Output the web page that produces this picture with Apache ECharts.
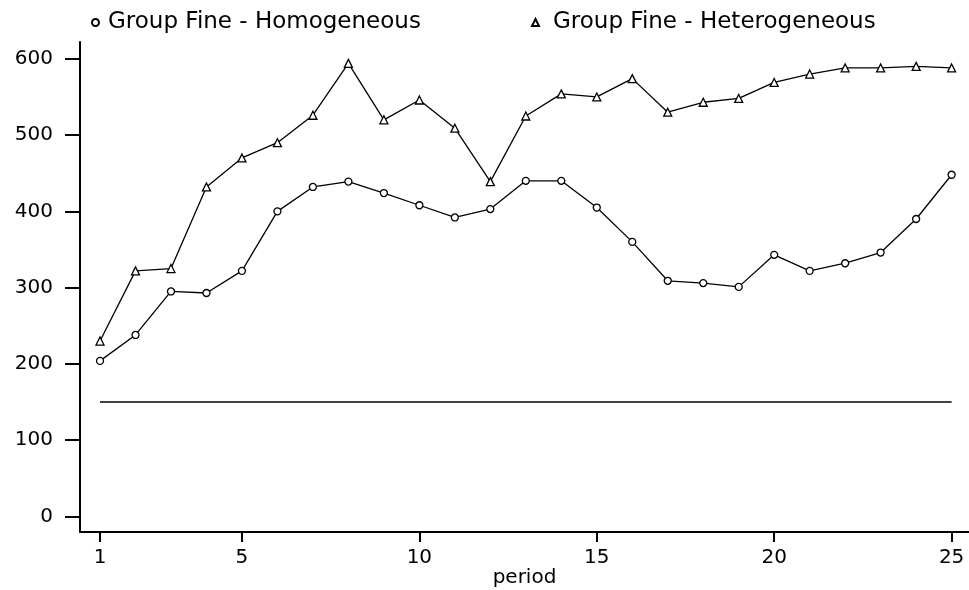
<!DOCTYPE html>
<html>
<head>
<meta charset="utf-8">
<script src="https://cdn.jsdelivr.net/npm/echarts@6/dist/echarts.min.js"></script>
<style>
html,body{margin:0;padding:0;background:#fff;}
#chart{width:969px;height:590px;}
</style>
</head>
<body>
<div id="chart"></div>
<script>
var periods = [1,2,3,4,5,6,7,8,9,10,11,12,13,14,15,16,17,18,19,20,21,22,23,24,25];
var homogeneous = [204,238,295,293,322,400,432,439,424,408,392,403,440,440,405,360,309,306,301,343,322,332,346,390,448];
var heterogeneous = [230,322,325,432,470,490,526,594,520,546,509,439,525,554,550,574,530,543,548,569,580,588,588,590,588];
var baselineValue = 150;
var xTicks = [1,5,10,15,20,25];
var yTicks = [0,100,200,300,400,500,600];
var nameHom = 'Group Fine - Homogeneous';
var nameHet = 'Group Fine - Heterogeneous';

function pairs(xs, ys){ return xs.map(function(x,i){ return [x, ys[i]]; }); }

var font = 'DejaVu Sans';
var ink = '#000';
var chart = echarts.init(document.getElementById('chart'), null, {renderer:'canvas'});
chart.setOption({
  animation: false,
  backgroundColor: '#fff',
  textStyle: {fontFamily: font, color: ink},
  legend: [
    {data: [{name: nameHom, icon: 'circle'}], left: 86, top: 6, itemWidth: 7, itemHeight: 7,
     textStyle: {fontFamily: font, fontSize: 23, color: ink, padding: [0,0,0,4]}, selectedMode: false},
    {data: [{name: nameHet, icon: 'triangle'}], left: 526, top: 6, itemWidth: 7, itemHeight: 7,
     textStyle: {fontFamily: font, fontSize: 23, color: ink, padding: [0,0,0,9]}, selectedMode: false}
  ],
  grid: {left: 80, right: 0, top: 42, bottom: 58, containLabel: false, outerBoundsMode: 'none'},
  xAxis: {
    type: 'value', min: 0.436, max: 25.49,
    name: 'period', nameLocation: 'middle', nameGap: 36, nameMoveOverlap: false,
    nameTextStyle: {fontFamily: font, fontSize: 20, color: ink},
    axisLine: {show: true, onZero: false, lineStyle: {color: ink, width: 2}},
    axisTick: {show: true, length: 10, customValues: xTicks, lineStyle: {color: ink, width: 2}},
    axisLabel: {customValues: xTicks, fontFamily: font, fontSize: 20, color: ink, margin: 16},
    splitLine: {show: false}
  },
  yAxis: {
    type: 'value', min: -20.3, max: 622,
    axisLine: {show: true, onZero: false, lineStyle: {color: ink, width: 2}},
    axisTick: {show: true, length: 15, customValues: yTicks, lineStyle: {color: ink, width: 2}},
    axisLabel: {customValues: yTicks, fontFamily: font, fontSize: 20, color: ink, margin: 27},
    splitLine: {show: false}
  },
  series: [
    {name: nameHom, type: 'line', data: pairs(periods, homogeneous),
     symbol: 'circle', symbolSize: 7, showAllSymbol: true,
     lineStyle: {color: ink, width: 1.3},
     itemStyle: {color: '#fff', borderColor: ink, borderWidth: 1.3}},
    {name: nameHet, type: 'line', data: pairs(periods, heterogeneous),
     symbol: 'triangle', symbolSize: 8, showAllSymbol: true,
     lineStyle: {color: ink, width: 1.3},
     itemStyle: {color: '#fff', borderColor: ink, borderWidth: 1.3}},
    {name: 'baseline', type: 'line', data: [[periods[0], baselineValue],[periods[periods.length-1], baselineValue]],
     symbol: 'none', lineStyle: {color: ink, width: 1.5}}
  ]
});
</script>
</body>
</html>
